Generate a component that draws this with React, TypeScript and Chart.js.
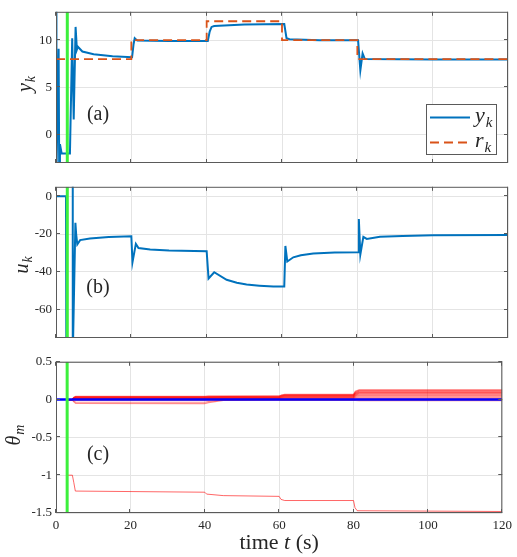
import React, { useEffect, useRef } from 'react';
import { Chart, registerables } from 'chart.js';
Chart.register(...registerables);

const FONT = '"Liberation Serif", "DejaVu Serif", serif';
const AXIS_COLOR = '#5a5a5a';
const TEXT_COLOR = '#262626';
const GRID_COLOR = '#e4e4e4';
const BLUE = '#0072BD';
const ORANGE = '#D95319';
const GREEN = '#3cf03c';

// shared x axis
const xTickVals = [0, 20, 40, 60, 80, 100, 120];
const xTickLabels = ['0', '20', '40', '60', '80', '100', '120'];
const greenT = 3;

// (a) output y_k and reference r_k
const tY = [0, 0.12, 0.7, 0.85, 1.05, 1.5, 3.7, 4.3, 4.7, 5.2, 5.55, 5.8, 7, 10, 15, 20.2, 20.6, 20.9, 21.6, 30, 40.3, 40.8, 41.3, 42, 50, 60.6, 61.2, 62, 70, 80.2, 80.8, 81.4, 82, 100, 120];
const yK = [15, -4, 9.1, -3.5, -1, -2, -2, 10.2, 1.6, 11.4, 9.0, 9.3, 8.8, 8.5, 8.3, 8.2, 9.6, 10.2, 9.95, 9.9, 9.9, 10.9, 11.4, 11.5, 11.65, 11.7, 10.2, 10.1, 10.0, 10.0, 6.8, 8.6, 8.0, 7.95, 7.95];
const tR = [0, 20, 20, 40, 40, 60, 60, 80, 80, 120];
const rK = [8, 8, 10, 10, 12, 12, 10, 10, 8, 8];
const yTicksA = [0, 5, 10];
const yTickLabelsA = ['0', '5', '10'];

// (b) input u_k
const tU = [0, 2.65, 2.75, 4.3, 4.4, 4.5, 5.15, 5.35, 5.65, 6.4, 9, 14, 20, 20.3, 21.2, 21.9, 25, 30, 40, 40.5, 42, 45.3, 48, 50.6, 54, 57.7, 60.6, 60.9, 61.4, 63, 65, 68.3, 74, 80.2, 80.4, 80.8, 81.6, 82.5, 86, 92, 100, 120];
const uK = [0, 0, -85, -85, 10, -85, -14, -20, -25.5, -23.2, -22.4, -21.6, -21.2, -35, -25.2, -27.4, -28.2, -28.7, -29.1, -43.5, -40.2, -44.2, -45.8, -46.7, -47.3, -47.8, -47.8, -26.3, -34.5, -32.3, -31.2, -30.3, -29.8, -29.6, -12, -30.8, -21.5, -22.6, -21.4, -21.0, -20.7, -20.5];
const yTicksB = [-60, -40, -20, 0];
const yTickLabelsB = ['-60', '-40', '-20', '0'];

// (c) parameters theta_m
const tTh = [3, 4.3, 4.8, 5.3, 40, 41, 45, 60, 60.6, 61.5, 80, 80.5, 81.5, 120];
const th1 = [0, 0, 0.03, 0.044, 0.044, 0.046, 0.047, 0.048, 0.06, 0.068, 0.068, 0.11, 0.13, 0.13];
const th2 = [0, 0, 0.028, 0.04, 0.04, 0.042, 0.043, 0.044, 0.055, 0.063, 0.063, 0.1, 0.121, 0.121];
const th3 = [0, 0, 0.025, 0.036, 0.036, 0.038, 0.039, 0.04, 0.05, 0.058, 0.058, 0.092, 0.112, 0.112];
const th4 = [0, 0, 0.022, 0.032, 0.032, 0.034, 0.035, 0.036, 0.046, 0.053, 0.053, 0.085, 0.103, 0.103];
const th5 = [0, 0, 0.019, 0.028, 0.028, 0.03, 0.031, 0.032, 0.041, 0.048, 0.048, 0.078, 0.094, 0.094];
const th6 = [0, 0, 0.016, 0.024, 0.024, 0.026, 0.027, 0.028, 0.036, 0.042, 0.042, 0.07, 0.085, 0.085];
const th7 = [0, 0, 0.013, 0.02, 0.02, 0.022, 0.023, 0.024, 0.031, 0.036, 0.036, 0.062, 0.075, 0.075];
const th8 = [0, 0, 0.01, 0.016, 0.016, 0.018, 0.019, 0.02, 0.026, 0.03, 0.03, 0.052, 0.064, 0.064];
const th9 = [0, 0, 0.007, 0.012, 0.012, 0.014, 0.015, 0.016, 0.02, 0.024, 0.024, 0.042, 0.052, 0.052];
const th10 = [0, 0, 0.004, 0.008, 0.008, 0.01, 0.011, 0.012, 0.015, 0.018, 0.018, 0.03, 0.038, 0.038];
const th11 = [0, 0, 0.002, 0.004, 0.004, 0.006, 0.007, 0.008, 0.01, 0.012, 0.012, 0.018, 0.024, 0.024];
const th12 = [0, 0, -0.005, -0.01, -0.01, -0.008, -0.005, -0.005, -0.006, -0.008, -0.008, -0.012, -0.015, -0.015];
const th13 = [0, 0, -0.03, -0.05, -0.052, -0.04, -0.01, -0.005, -0.005, -0.005, -0.005, -0.005, -0.005, -0.005];
const th14 = [0, 0, -0.02, -0.035, -0.035, -0.025, -0.005, 0, 0, 0, 0, 0.005, 0.01, 0.01];
const tLow = [3, 4.4, 4.8, 5.2, 40, 40.5, 45, 60, 60.5, 61.5, 80, 80.4, 81, 120];
const thLow = [-1, -1, -1.1, -1.21, -1.225, -1.25, -1.27, -1.28, -1.32, -1.335, -1.335, -1.43, -1.47, -1.48];
const tMean = [0, 120];
const thMean = [0, 0];
const yTicksC = [-1.5, -1, -0.5, 0, 0.5];
const yTickLabelsC = ['-1.5', '-1', '-0.5', '0', '0.5'];

const pts = (t: number[], v: number[]) => t.map((x, i) => ({ x, y: v[i] }));

function drawSub(ctx: CanvasRenderingContext2D, main: string, sub: string, x: number, y: number, ms: number, ss: number, center: boolean) {
  ctx.font = `italic ${ms}px ${FONT}`;
  const wm = ctx.measureText(main).width;
  ctx.font = `italic ${ss}px ${FONT}`;
  const ws = ctx.measureText(sub).width;
  const x0 = center ? x - (wm + ws + 1) / 2 : x;
  ctx.textAlign = 'left';
  ctx.textBaseline = 'alphabetic';
  ctx.font = `italic ${ms}px ${FONT}`;
  ctx.fillText(main, x0, y);
  ctx.font = `italic ${ss}px ${FONT}`;
  ctx.fillText(sub, x0 + wm + 1, y + ss * 0.3);
}

function makeDeco(s: any) {
  return {
    id: 'deco',
    afterDraw(chart: any) {
      const ctx = chart.ctx as CanvasRenderingContext2D;
      const ca = chart.chartArea;
      const xs = chart.scales.x, ys = chart.scales.y;
      ctx.save();
      ctx.strokeStyle = AXIS_COLOR;
      ctx.lineWidth = 1;
      ctx.beginPath();
      for (const v of xTickVals) {
        const px = Math.round(xs.getPixelForValue(v)) - 0.5;
        ctx.moveTo(px, ca.bottom); ctx.lineTo(px, ca.bottom - 4);
        ctx.moveTo(px, ca.top); ctx.lineTo(px, ca.top + 4);
      }
      for (const v of s.yTicks) {
        const py = Math.round(ys.getPixelForValue(v)) - 0.5;
        ctx.moveTo(ca.left, py); ctx.lineTo(ca.left + 4, py);
        ctx.moveTo(ca.right, py); ctx.lineTo(ca.right - 4, py);
      }
      ctx.stroke();
      ctx.strokeRect(ca.left + 0.5, ca.top + 0.5, ca.right - ca.left - 1, ca.bottom - ca.top - 1);

      ctx.fillStyle = TEXT_COLOR;
      ctx.font = `20px ${FONT}`;
      ctx.textAlign = 'center';
      ctx.textBaseline = 'middle';
      ctx.fillText(s.label, 98, s.labelY);

      ctx.save();
      ctx.translate(s.titleX, s.titleY);
      ctx.rotate(-Math.PI / 2);
      drawSub(ctx, s.titleMain, s.titleSub, 0, 0, 20, 14, true);
      ctx.restore();

      if (s.legend) {
        const lx = 426, ly = 104, lw = 71, lh = 51;
        ctx.fillStyle = '#ffffff';
        ctx.fillRect(lx, ly, lw, lh);
        ctx.strokeStyle = AXIS_COLOR;
        ctx.strokeRect(lx + 0.5, ly + 0.5, lw - 1, lh - 1);
        ctx.lineWidth = 2;
        ctx.strokeStyle = BLUE;
        ctx.beginPath(); ctx.moveTo(430, 117.5); ctx.lineTo(470, 117.5); ctx.stroke();
        ctx.strokeStyle = ORANGE;
        ctx.setLineDash([9, 5]);
        ctx.beginPath(); ctx.moveTo(430, 142.5); ctx.lineTo(470, 142.5); ctx.stroke();
        ctx.setLineDash([]);
        ctx.fillStyle = TEXT_COLOR;
        drawSub(ctx, 'y', 'k', 475, 122, 22, 15, false);
        drawSub(ctx, 'r', 'k', 475, 147, 22, 15, false);
      }
      if (s.xTitle) {
        const cx = (ca.left + ca.right) / 2;
        const y = s.xTitleY;
        ctx.fillStyle = TEXT_COLOR;
        ctx.textBaseline = 'alphabetic';
        ctx.textAlign = 'left';
        ctx.font = `22px ${FONT}`;
        const w1 = ctx.measureText('time ').width;
        const w3 = ctx.measureText(' (s)').width;
        ctx.font = `italic 22px ${FONT}`;
        const w2 = ctx.measureText('t').width;
        const x0 = cx - (w1 + w2 + w3) / 2;
        ctx.font = `22px ${FONT}`;
        ctx.fillText('time ', x0, y);
        ctx.font = `italic 22px ${FONT}`;
        ctx.fillText('t', x0 + w1, y);
        ctx.font = `22px ${FONT}`;
        ctx.fillText(' (s)', x0 + w1 + w2, y);
      }
      ctx.restore();
    },
  };
}

function makeConfig(datasets: any[], yMin: number, yMax: number, yTicks: number[], yLabels: string[], showX: boolean, xH: number, deco: any) {
  return {
    type: 'line',
    data: { datasets },
    options: {
      animation: false,
      responsive: false,
      events: [],
      layout: { padding: { top: 6, right: 9, left: 0, bottom: 0 } },
      plugins: { legend: { display: false }, tooltip: { enabled: false } },
      elements: { point: { radius: 0 }, line: { tension: 0 } },
      scales: {
        x: {
          type: 'linear', min: 0, max: 120,
          afterBuildTicks: (sc: any) => { sc.ticks = xTickVals.map((v) => ({ value: v })); },
          afterFit: (sc: any) => { sc.height = xH; },
          ticks: {
            display: showX, autoSkip: false, maxRotation: 0, padding: 5, color: TEXT_COLOR,
            font: { family: FONT, size: 13 },
            callback: (v: any) => xTickLabels[xTickVals.indexOf(Number(v))] ?? '',
          },
          grid: { color: GRID_COLOR, drawTicks: false },
          border: { display: false },
        },
        y: {
          type: 'linear', min: yMin, max: yMax,
          afterBuildTicks: (sc: any) => { sc.ticks = yTicks.map((v) => ({ value: v })); },
          afterFit: (sc: any) => { sc.width = 56; },
          ticks: {
            padding: 4, color: TEXT_COLOR, font: { family: FONT, size: 13 },
            callback: (v: any) => yLabels[yTicks.indexOf(Number(v))] ?? '',
          },
          grid: { color: GRID_COLOR, drawTicks: false },
          border: { display: false },
        },
      },
    },
    plugins: [makeDeco(deco)],
  } as any;
}

const greenSet = (lo: number, hi: number) => ({
  data: [{ x: greenT, y: lo }, { x: greenT, y: hi }],
  borderColor: GREEN, borderWidth: 3, order: 0,
});

export default function App() {
  const aRef = useRef<HTMLCanvasElement>(null);
  const bRef = useRef<HTMLCanvasElement>(null);
  const cRef = useRef<HTMLCanvasElement>(null);

  useEffect(() => {
    const charts: Chart[] = [];
    charts.push(new Chart(aRef.current!, makeConfig([
      greenSet(-3, 13),
      { data: pts(tR, rK), borderColor: ORANGE, borderWidth: 1.8, borderDash: [9, 5], order: 1 },
      { data: pts(tY, yK), borderColor: BLUE, borderWidth: 2, order: 2 },
    ], -3, 13, yTicksA, yTickLabelsA, false, 12,
      { yTicks: yTicksA, label: '(a)', labelY: 115, titleMain: 'y', titleSub: 'k', titleX: 31, titleY: 84, legend: true })));

    charts.push(new Chart(bRef.current!, makeConfig([
      greenSet(-75, 5),
      { data: pts(tU, uK), borderColor: BLUE, borderWidth: 2, order: 2 },
    ], -75, 5, yTicksB, yTickLabelsB, false, 12,
      { yTicks: yTicksB, label: '(b)', labelY: 113, titleMain: 'u', titleSub: 'k', titleX: 28, titleY: 90 })));

    const reds = [th1, th2, th3, th4, th5, th6, th7, th8, th9, th10, th11, th12, th13, th14].map((v) => ({
      data: pts(tTh, v), borderColor: 'rgba(255,0,0,0.45)', borderWidth: 1.2, order: 3,
    }));
    charts.push(new Chart(cRef.current!, makeConfig([
      greenSet(-1.5, 0.5),
      { data: pts(tMean, thMean), borderColor: '#0000ff', borderWidth: 2.5, order: 1 },
      { data: pts(tLow, thLow), borderColor: 'rgba(255,0,0,0.6)', borderWidth: 1, order: 3 },
      ...reds,
    ], -1.5, 0.5, yTicksC, yTickLabelsC, true, 44,
      { yTicks: yTicksC, label: '(c)', labelY: 105, titleMain: 'θ', titleSub: 'm', titleX: 20, titleY: 85, xTitle: true, xTitleY: 199 })));

    return () => charts.forEach((c) => c.destroy());
  }, []);

  return (
    <div style={{ position: 'absolute', left: 0, top: 0, width: 517, height: 557, background: '#fff' }}>
      <canvas ref={aRef} width={517} height={175} style={{ position: 'absolute', left: 0, top: 0 }} />
      <canvas ref={bRef} width={517} height={175} style={{ position: 'absolute', left: 0, top: 175 }} />
      <canvas ref={cRef} width={517} height={207} style={{ position: 'absolute', left: 0, top: 350 }} />
    </div>
  );
}
